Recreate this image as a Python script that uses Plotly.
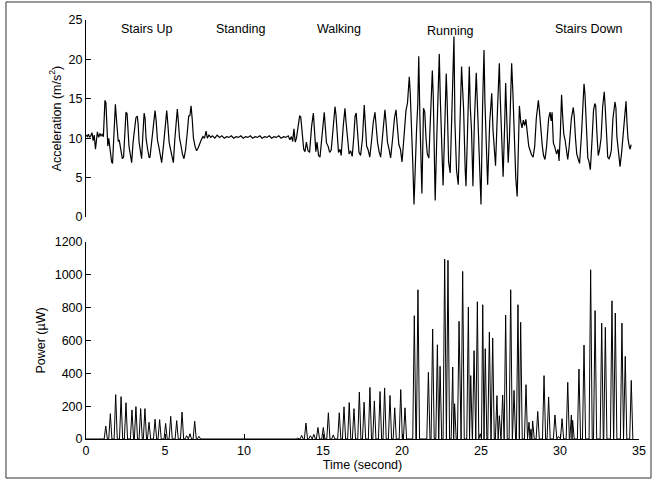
import plotly.graph_objects as go

# ---------------- Acceleration data (m/s^2) ----------------
start_t = [0.0, 0.08, 0.15, 0.22, 0.3, 0.38, 0.45, 0.52, 0.6, 0.66, 0.72, 0.8, 0.88, 0.95, 1.02, 1.1]
start_v = [10.4, 10.2, 10.5, 10.1, 10.3, 10.7, 9.7, 10.4, 8.6, 10.3, 10.8, 10.1, 10.6, 10.3, 10.5, 10.2]

stairs_up_t = [1.15, 1.2, 1.26, 1.32, 1.38, 1.44, 1.52, 1.62, 1.68, 1.76, 1.86, 1.92, 1.98, 2.04, 2.1,
               2.2, 2.3, 2.38, 2.46, 2.53, 2.6, 2.66, 2.72, 2.8, 2.89, 2.98, 3.08, 3.16, 3.25, 3.3,
               3.36, 3.44, 3.52, 3.6, 3.68, 3.74, 3.8, 3.9, 4.0, 4.05, 4.15, 4.28, 4.37, 4.44, 4.52,
               4.6, 4.7, 4.79, 4.9, 5.02, 5.11, 5.18, 5.26, 5.36, 5.45, 5.53, 5.62, 5.72, 5.78, 5.85,
               5.92, 6.0, 6.1, 6.2, 6.3, 6.4, 6.5, 6.58, 6.65, 6.72, 6.8, 6.9, 7.0, 7.1, 7.2, 7.3]
stairs_up_v = [12.5, 14.8, 14.5, 12.0, 9.0, 10.0, 8.5, 7.0, 6.8, 9.5, 14.3, 12.6, 11.5, 9.6, 9.8,
               8.8, 7.4, 7.6, 10.5, 13.3, 13.1, 11.0, 9.0, 8.0, 6.9, 9.5, 11.5, 12.6, 12.8, 11.8,
               9.5, 8.2, 7.4, 10.5, 13.2, 12.5, 10.0, 8.6, 7.5, 7.6, 9.6, 12.0, 13.5, 12.2, 9.8,
               9.0, 8.0, 6.9, 9.0, 11.8, 13.5, 11.8, 9.5, 8.5, 7.6, 6.9, 9.8, 12.5, 13.7, 12.0,
               10.0, 9.2, 8.0, 7.4, 8.5, 10.5, 12.8, 12.9, 14.1, 12.5, 10.0, 9.0, 8.4, 8.8, 9.4, 9.8]

standing_t = [7.4, 7.5, 7.6, 7.68, 7.78, 7.9, 8.0, 8.15, 8.3, 8.45, 8.6, 8.75, 8.9, 9.05, 9.2, 9.35,
              9.5, 9.65, 9.8, 9.95, 10.1, 10.25, 10.4, 10.55, 10.7, 10.85, 11.0, 11.15, 11.3, 11.45,
              11.6, 11.75, 11.9, 12.05, 12.2, 12.35, 12.5, 12.65, 12.8, 12.9, 13.0, 13.08, 13.16,
              13.24, 13.32]
standing_v = [10.2, 10.0, 10.9, 10.0, 10.4, 10.1, 10.3, 10.0, 10.4, 10.1, 10.3, 10.0, 10.2, 10.1,
              10.3, 10.0, 10.2, 10.1, 10.3, 10.0, 10.2, 10.1, 10.3, 10.0, 10.2, 10.1, 10.3, 10.0,
              10.2, 10.1, 10.3, 10.0, 10.2, 10.1, 10.3, 10.0, 10.2, 10.1, 10.3, 9.8, 10.2, 9.6,
              11.2, 9.5, 10.0]

walking_t = [13.45, 13.52, 13.59, 13.68, 13.78, 13.86, 13.95, 14.05, 14.15, 14.28, 14.39, 14.46,
             14.55, 14.62, 14.72, 14.81, 14.95, 15.08, 15.14, 15.22, 15.32, 15.42, 15.52, 15.65,
             15.76, 15.82, 15.9, 15.98, 16.08, 16.15, 16.28, 16.39, 16.46, 16.55, 16.65, 16.75,
             16.85, 16.95, 17.03, 17.1, 17.18, 17.28, 17.38, 17.5, 17.61, 17.68, 17.76, 17.86,
             17.96, 18.08, 18.18, 18.29, 18.36, 18.45, 18.55, 18.65, 18.78, 18.92, 18.99, 19.08,
             19.18, 19.28, 19.4, 19.52, 19.62, 19.7, 19.8, 19.9, 20.0, 20.1, 20.25, 20.35]
walking_v = [11.5, 12.8, 12.7, 10.5, 8.6, 8.3, 9.5, 8.4, 8.2, 11.5, 13.2, 11.0,
             8.3, 9.5, 7.8, 7.6, 10.5, 13.3, 11.6, 9.4, 9.0, 8.2, 8.5, 11.0,
             14.0, 13.0, 10.0, 8.2, 8.6, 7.8, 11.5, 13.8, 12.0, 9.6, 8.0, 8.4,
             7.7, 10.2, 12.8, 13.2, 10.5, 8.2, 7.8, 10.0, 14.2, 12.0, 9.0, 8.5,
             7.6, 9.8, 12.0, 13.3, 11.5, 9.5, 8.3, 7.6, 10.5, 13.6, 12.0, 9.5,
             8.6, 7.5, 9.8, 12.5, 13.6, 11.5, 9.2, 8.6, 7.0, 9.5, 13.5, 14.5]

running_t = [20.46, 20.52, 20.6, 20.68, 20.76, 20.85, 20.92, 21.0, 21.06, 21.14, 21.2, 21.26, 21.36,
             21.44, 21.52, 21.6, 21.7, 21.82, 21.92, 21.98, 22.05, 22.1, 22.2, 22.3, 22.36, 22.42,
             22.52, 22.6, 22.7, 22.8, 22.86, 22.95, 23.05, 23.15, 23.29, 23.35, 23.45, 23.56,
             23.66, 23.77, 23.83, 23.9, 24.0, 24.05, 24.15, 24.26, 24.32, 24.4, 24.49, 24.58,
             24.7, 24.78, 24.88, 25.0, 25.1, 25.19, 25.25, 25.32, 25.42, 25.55, 25.68, 25.76,
             25.84, 25.92, 26.05, 26.16, 26.22, 26.3, 26.4, 26.5, 26.56, 26.64, 26.72, 26.8,
             26.94, 27.02, 27.1, 27.2, 27.29, 27.36, 27.43]
running_v = [17.8, 15.8, 12.0, 7.0, 1.6, 8.0, 11.0, 14.4, 20.4, 12.0, 5.5, 3.0, 13.8,
             13.3, 10.0, 8.0, 7.5, 14.0, 18.6, 15.3, 8.0, 2.1, 10.0, 16.0, 20.7, 15.3,
             8.0, 4.0, 11.0, 18.2, 14.5, 7.0, 5.6, 12.0, 22.9, 12.0, 6.0, 4.1,
             12.0, 19.1, 16.5, 13.6, 6.0, 3.9, 11.0, 19.1, 14.0, 11.0, 3.9, 12.0,
             18.3, 13.2, 8.0, 1.6, 14.0, 21.2, 14.5, 11.0, 4.1, 12.0, 15.7, 11.0,
             9.1, 6.5, 14.0, 19.5, 15.0, 11.0, 5.1, 12.0, 17.0, 12.0, 6.9, 10.0,
             19.5, 15.7, 10.0, 5.0, 2.6, 10.0, 14.1]

stairs_down_t = [27.52, 27.6, 27.68, 27.76, 27.84, 27.92, 28.02, 28.1, 28.2, 28.3, 28.4, 28.5, 28.63,
                 28.7, 28.78, 28.88, 28.96, 29.05, 29.15, 29.28, 29.37, 29.44, 29.5, 29.58, 29.68,
                 29.78, 29.88, 29.94, 30.02, 30.1, 30.16, 30.24, 30.32, 30.4, 30.49, 30.58, 30.72,
                 30.84, 30.9, 30.98, 31.06, 31.16, 31.24, 31.36, 31.45, 31.52, 31.58, 31.66, 31.76,
                 31.84, 31.92, 32.02, 32.12, 32.2, 32.26, 32.34, 32.42, 32.5, 32.6, 32.7, 32.8,
                 32.86, 32.94, 33.02, 33.1, 33.18, 33.25, 33.35, 33.48, 33.54, 33.6, 33.7, 33.8,
                 33.9, 34.0, 34.1, 34.18, 34.24, 34.3, 34.38, 34.44, 34.5]
stairs_down_v = [12.0, 11.3, 12.3, 11.6, 12.4, 10.5, 9.0, 8.5, 7.9, 7.6, 9.0, 12.5, 14.8,
                 13.4, 11.0, 9.0, 7.8, 7.3, 8.9, 12.5, 13.3, 12.2, 13.3, 9.4, 8.8,
                 8.0, 8.6, 7.1, 10.5, 15.5, 13.0, 10.5, 9.8, 8.2, 7.3, 8.9, 12.5,
                 13.9, 12.8, 10.0, 8.0, 7.3, 6.8, 10.5, 15.0, 16.9, 15.6, 11.0, 7.5,
                 7.0, 6.0, 9.5, 13.5, 14.4, 14.1, 10.5, 7.8, 8.5, 10.0, 14.0, 15.9,
                 14.0, 10.0, 7.6, 7.4, 7.8, 8.5, 12.5, 14.6, 13.8, 10.2, 8.0, 6.4,
                 8.2, 10.5, 13.5, 14.7, 12.0, 10.0, 9.0, 8.6, 9.2]

# ---------------- Harvested power (uW): pulse peaks ----------------
power_peak_t = [1.25, 1.54, 1.88, 2.22, 2.53, 2.91, 3.16, 3.46, 3.73, 3.99, 4.37, 4.66, 5.04, 5.36,
                5.74, 6.08, 6.37, 6.58, 6.88, 7.15,
                13.4, 13.65, 13.92, 14.2, 14.42, 14.68, 15.02, 15.34, 15.65, 16.03, 16.33, 16.66,
                16.96, 17.3, 17.6, 17.97, 18.25, 18.61, 18.9, 19.24, 19.54, 19.92, 20.19,
                20.78, 21.01, 21.67, 21.94, 22.24, 22.41, 22.7, 22.91, 23.21, 23.33, 23.61, 23.84,
                24.2, 24.35, 24.56, 24.77, 24.95, 25.11, 25.27, 25.53, 25.74, 26.01, 26.16, 26.37,
                26.56, 26.88, 27.09, 27.34, 27.51,
                27.85, 28.04, 28.16, 28.27, 28.59, 28.99, 29.28, 29.68, 29.9, 30.13, 30.49, 30.72,
                30.8, 31.2, 31.52, 31.94, 32.22, 32.64, 32.87, 33.29, 33.5, 33.92, 34.13, 34.51]
power_peak_v = [79, 154, 270, 258, 221, 177, 197, 185, 185, 102, 120, 118, 95, 138,
                112, 164, 20, 32, 108, 16,
                5, 22, 97, 20, 28, 70, 70, 160, 25, 160, 196, 222,
                185, 286, 224, 314, 232, 289, 311, 265, 190, 301, 190,
                751, 909, 406, 670, 574, 443, 1096, 1088, 438, 215, 717, 1021,
                804, 386, 538, 836, 32, 818, 550, 652, 615, 264, 142, 268,
                755, 909, 296, 818, 711,
                331, 102, 60, 110, 168, 386, 256, 146, 15, 124, 345, 146,
                114, 426, 572, 1031, 782, 706, 680, 842, 767, 706, 503, 357]

activity_labels = ["Stairs Up", "Standing", "Walking", "Running", "Stairs Down"]
activity_label_t = [3.8, 9.8, 16.0, 23.07, 31.8]
activity_label_y = [23.9, 23.9, 23.9, 23.6, 23.8]

accel_ticks = [0, 5, 10, 15, 20, 25]
power_ticks = [0, 200, 400, 600, 800, 1000, 1200]
time_ticks = [0, 5, 10, 15, 20, 25, 30, 35]

accel_t = start_t + stairs_up_t + standing_t + walking_t + running_t + stairs_down_t
accel_v = start_v + stairs_up_v + standing_v + walking_v + running_v + stairs_down_v


def pulse_path(ts, vs, half_width=0.1):
    xs, ys = [0.0], [0.0]
    n = len(ts)
    for i in range(n):
        t, v = ts[i], vs[i]
        lg = (t - ts[i - 1]) / 2 if i > 0 else half_width
        rg = (ts[i + 1] - t) / 2 if i < n - 1 else half_width
        xs += [t - min(half_width, lg), t, t + min(half_width, rg)]
        ys += [0, v, 0]
    return xs, ys


power_x, power_y = pulse_path(power_peak_t, power_peak_v)

FONT = "Liberation Sans, Arial, Helvetica, sans-serif"
fig = go.Figure()
fig.add_trace(go.Scatter(x=accel_t, y=accel_v, mode="lines",
                         line=dict(color="black", width=1.2), xaxis="x2", yaxis="y2"))
fig.add_trace(go.Scatter(x=power_x, y=power_y, mode="lines",
                         line=dict(color="black", width=1.0), xaxis="x", yaxis="y"))

for lab, t, y in zip(activity_labels, activity_label_t, activity_label_y):
    fig.add_annotation(x=t, y=y, xref="x2", yref="y2", text=lab, showarrow=False,
                       font=dict(size=12.5, color="black", family=FONT))

axis_common = dict(showline=True, linecolor="black", linewidth=1, ticks="inside", ticklen=5,
                   tickcolor="black", showgrid=False, zeroline=False, automargin=False,
                   tickfont=dict(size=12.5, color="black", family=FONT))

fig.update_layout(
    width=657, height=481,
    margin=dict(l=86, r=18, t=20, b=42, autoexpand=False),
    paper_bgcolor="white", plot_bgcolor="white",
    showlegend=False,
    font=dict(family=FONT, size=12.5, color="black"),
    xaxis=dict(domain=[0, 1], range=[0, 35], anchor="y", tickvals=time_ticks,
               title=dict(text="Time (second)", standoff=2, font=dict(size=12.5)), **axis_common),
    yaxis=dict(domain=[0, 0.4702], range=[0, 1200], anchor="x", tickvals=power_ticks,
               title=dict(text="Power (\u00b5W)", standoff=6, font=dict(size=12.5)), **axis_common),
    xaxis2=dict(domain=[0, 1], range=[0, 35], anchor="y2", visible=False),
    yaxis2=dict(domain=[0.5298, 1], range=[0, 25], anchor="x2", tickvals=accel_ticks,
                title=dict(text="Acceleration (m/s<sup>2</sup>)", standoff=4, font=dict(size=12.5)),
                **axis_common),
    shapes=[dict(type="rect", xref="paper", yref="paper",
                 x0=-0.1447, x1=1.0217, y0=-0.0931, y1=1.0430,
                 line=dict(color="#333333", width=1), fillcolor="rgba(0,0,0,0)", layer="above")],
)

fig.write_html("out.html", config={"displayModeBar": False},
               post_script="document.body.style.margin='0';document.body.style.padding='0';")
